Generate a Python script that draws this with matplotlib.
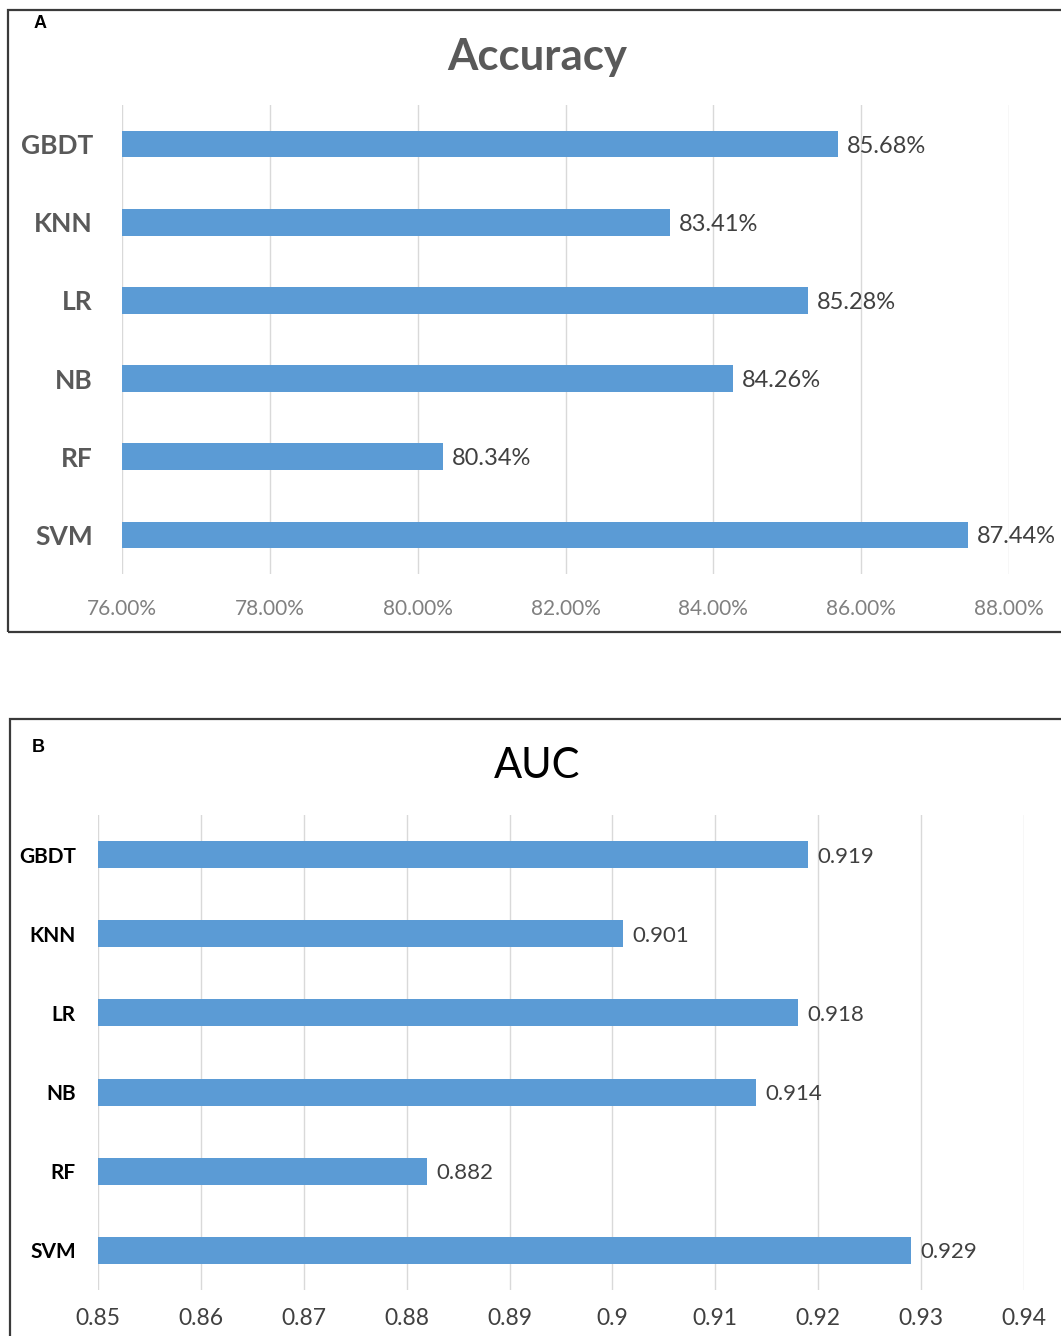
import matplotlib.pyplot as plt
import matplotlib.patches as patches
import numpy as np

# données
models = ['GBDT', 'KNN', 'LR', 'NB', 'RF', 'SVM']
accuracy = [85.68, 83.41, 85.28, 84.26, 80.34, 87.44]
auc = [0.919, 0.901, 0.918, 0.914, 0.882, 0.929]
acc_ticks = [76, 78, 80, 82, 84, 86, 88]
auc_ticks = [0.85, 0.86, 0.87, 0.88, 0.89, 0.90, 0.91, 0.92, 0.93, 0.94]
auc_ticklabels = ['0.85', '0.86', '0.87', '0.88', '0.89', '0.9', '0.91', '0.92', '0.93', '0.94']

W, H = 1061, 1336
bleu = '#5B9BD5'
grille = '#D9D9D9'
plt.rcParams['font.family'] = ['Lato', 'DejaVu Sans']

fig = plt.figure(figsize=(W/100, H/100), dpi=100)

def px_axes(x0, y0, x1, y1):
    # coordonnées en pixels (origine en haut à gauche)
    return fig.add_axes([x0/W, 1 - y1/H, (x1 - x0)/W, (y1 - y0)/H])

def cadre(x0, y0, x1, y1):
    fig.patches.append(patches.Rectangle((x0/W, 1 - y1/H), (x1 - x0)/W, (y1 - y0)/H,
                                         transform=fig.transFigure, fill=False,
                                         edgecolor='#3a3a3a', linewidth=1.6))

def barres(ax, vals, xmin, xmax, ticks, ticklabels, fmt, lab_size, lab_color, lab_weight,
           tick_size, tick_color, val_size, dx, xpad, ypad):
    y = np.arange(len(models))
    ax.barh(y, [v - xmin for v in vals], left=xmin, height=0.34, color=bleu, zorder=3)
    ax.set_xlim(xmin, xmax)
    ax.set_ylim(len(models) - 0.5, -0.5)
    ax.set_xticks(ticks)
    ax.set_xticklabels(ticklabels, fontsize=tick_size, color=tick_color)
    ax.set_yticks(y)
    ax.set_yticklabels(models, fontsize=lab_size, color=lab_color, fontweight=lab_weight)
    ax.tick_params(length=0)
    ax.tick_params(axis='x', pad=xpad)
    ax.tick_params(axis='y', pad=ypad)
    ax.grid(axis='x', color=grille, linewidth=1, zorder=0)
    for s in ax.spines.values():
        s.set_visible(False)
    for yi, v in zip(y, vals):
        ax.text(v + dx, yi, fmt(v), va='center_baseline', ha='left', fontsize=val_size,
                color='#404040')

# Panneau A
cadre(8, 10, 1075, 632)
axA = px_axes(122, 105, 1009, 574)
barres(axA, accuracy, 76, 88, acc_ticks, ['%.2f%%' % t for t in acc_ticks],
       lambda v: '%.2f%%' % v, 19, '#595959', 'bold', 15, '#808080', 17, 0.12, 18, 21)
fig.text(537/W, 1 - 57/H, 'Accuracy', ha='center', va='center', fontsize=31.5,
         fontweight='bold', color='#595959')
fig.text(40/W, 1 - 23/H, 'A', ha='center', va='center', fontsize=13,
         fontweight='bold', family='Liberation Sans')

# Panneau B
cadre(10, 719, 1075, 1345)
axB = px_axes(98, 815, 1024, 1290)
barres(axB, auc, 0.85, 0.94, auc_ticks, auc_ticklabels,
       lambda v: '%.3f' % v, 15, 'black', 'bold', 16.5, '#404040', 16, 0.0009, 13, 16)
fig.text(537/W, 1 - 766/H, 'AUC', ha='center', va='center', fontsize=30, color='black')
fig.text(38/W, 1 - 747/H, 'B', ha='center', va='center', fontsize=13,
         fontweight='bold', family='Liberation Sans')

fig.savefig('out.png', dpi=100)
